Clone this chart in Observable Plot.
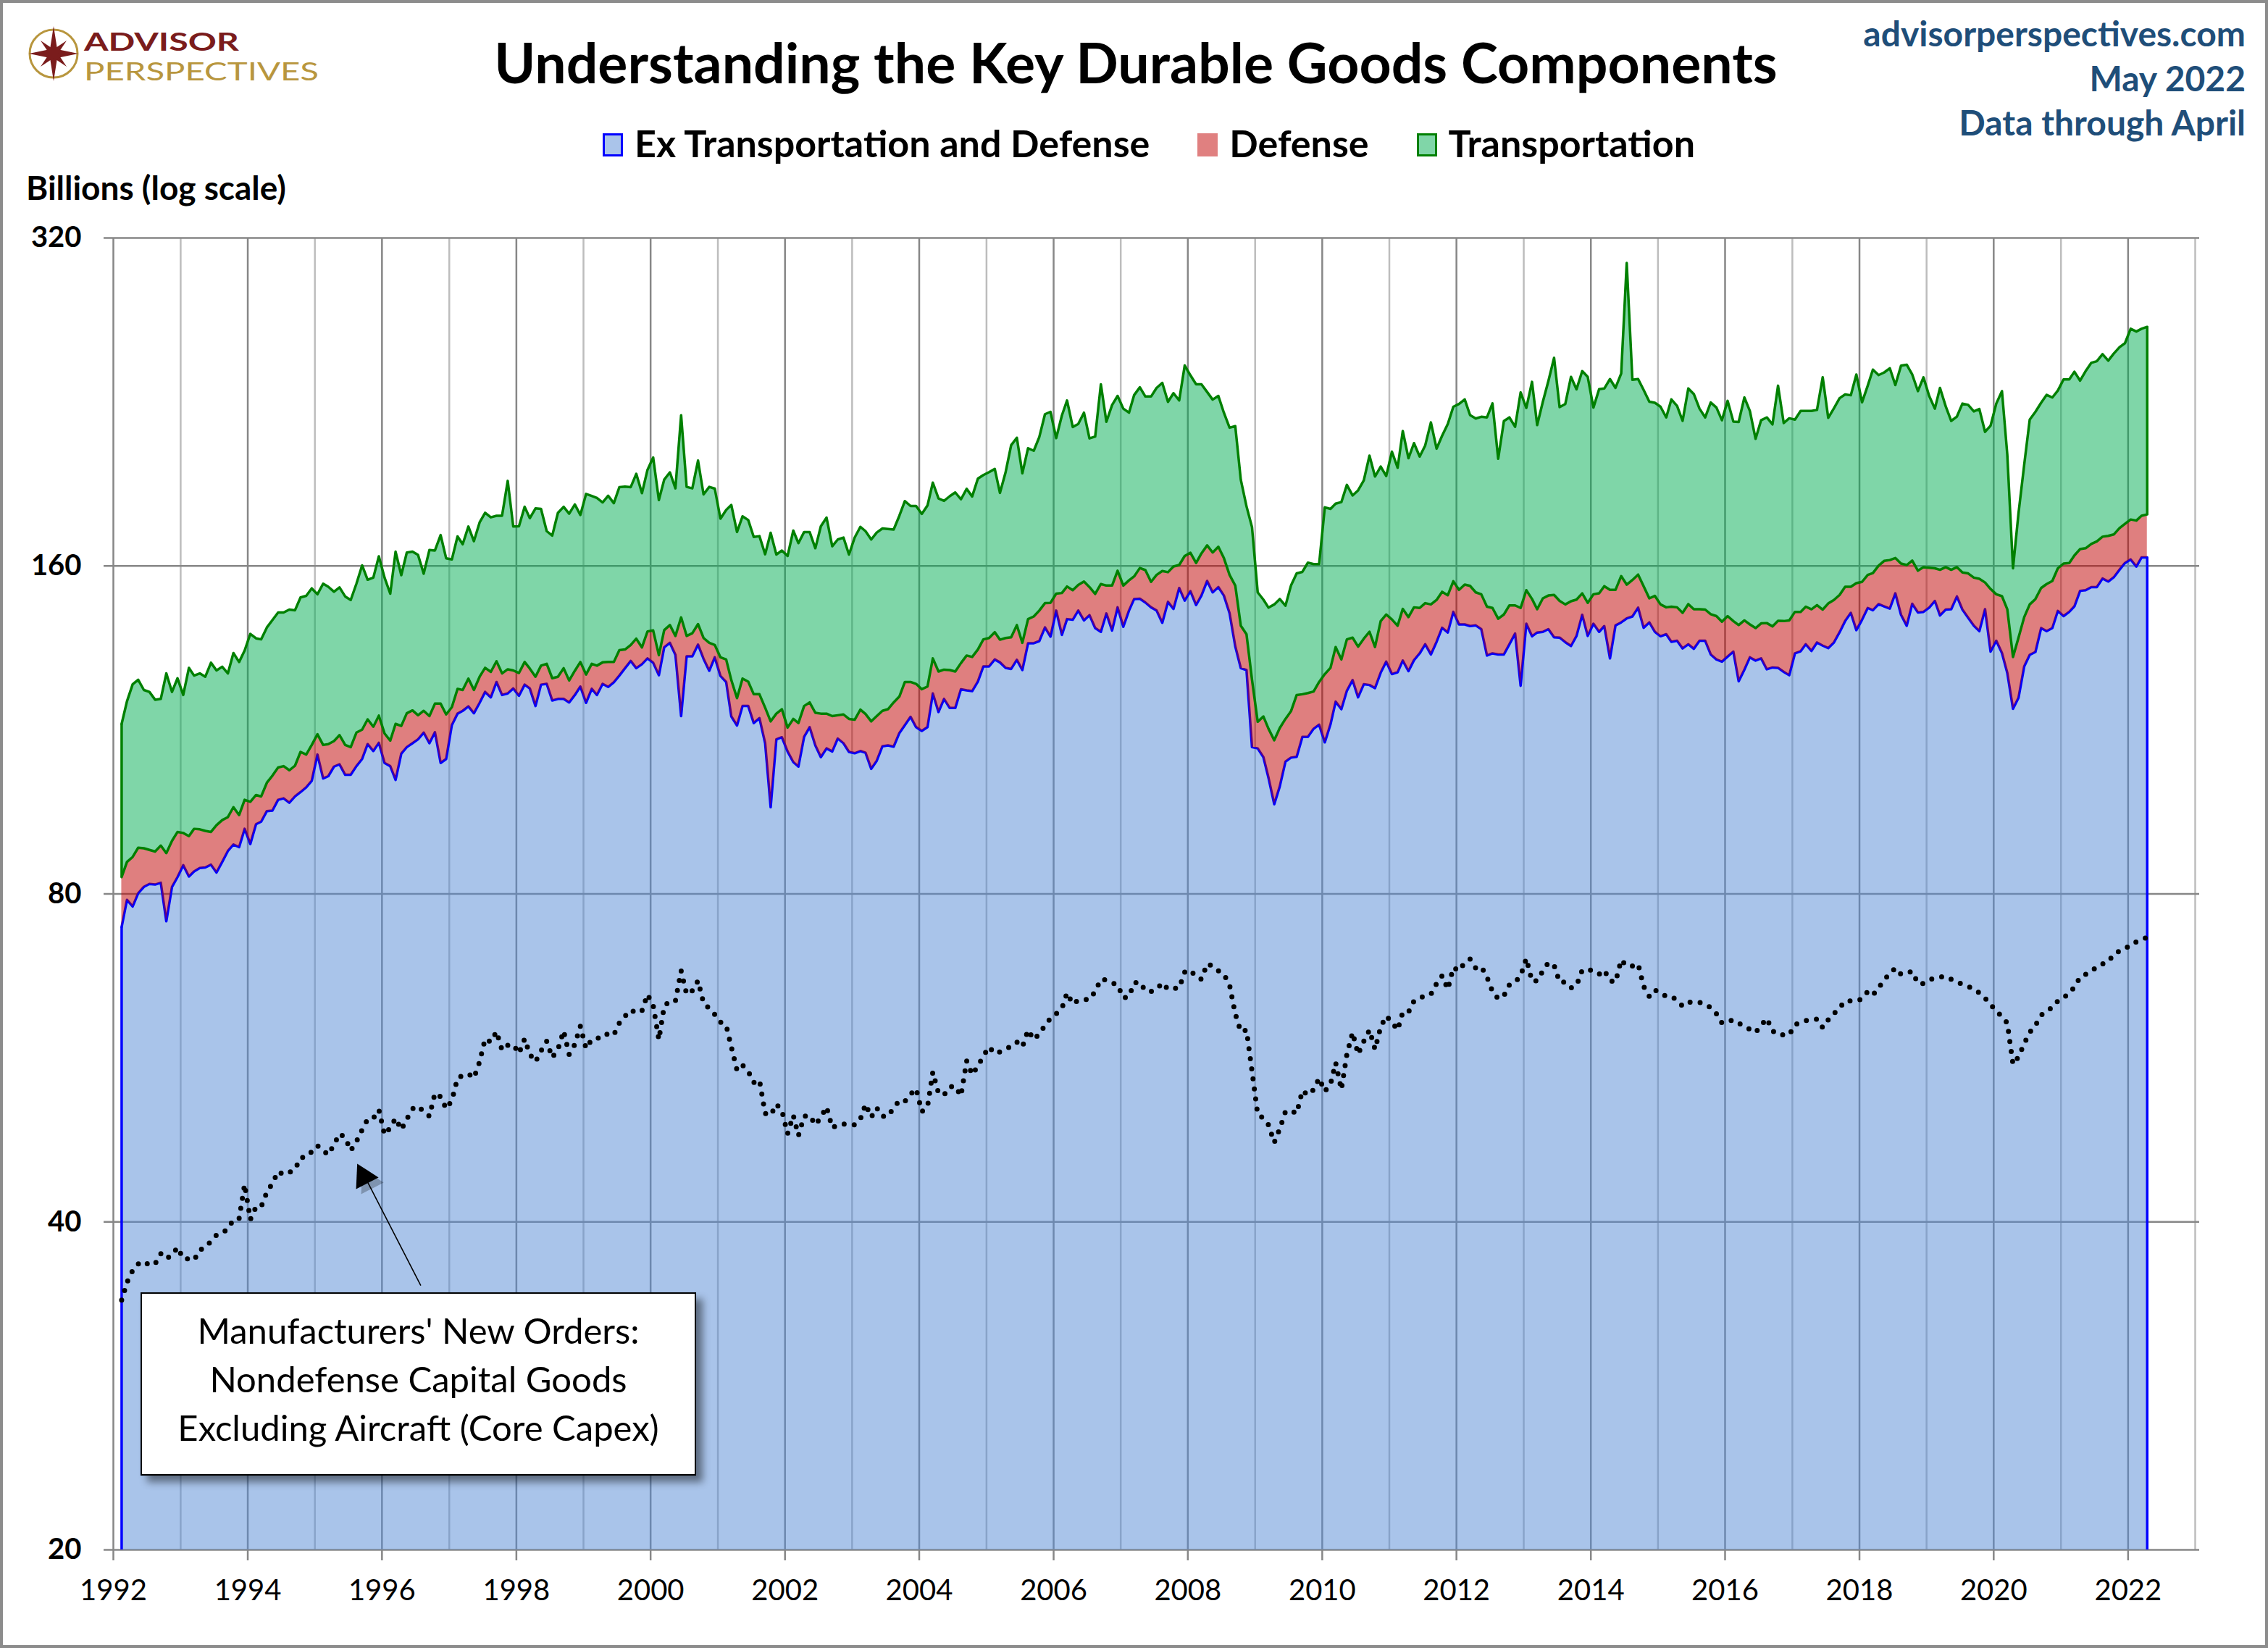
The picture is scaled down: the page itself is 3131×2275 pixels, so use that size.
<!DOCTYPE html>
<html>
<head>
<meta charset="utf-8">
<script src="https://cdn.jsdelivr.net/npm/d3@7"></script>
<script src="https://cdn.jsdelivr.net/npm/@observablehq/plot@0.6"></script>
<style>
  html, body { margin: 0; padding: 0; background: #fff; }
  #wrap { position: relative; width: 3131px; height: 2275px; overflow: hidden; background: #fff; font-family: Lato, "Noto Sans", sans-serif; }
  #chart { position: absolute; left: 0; top: 0; }
  .abs { position: absolute; line-height: 1; white-space: nowrap; }
  .blue { color: #1F4E79; font-weight: 700; font-size: 48px; right: 31px; text-align: right; }
  #legend { position: absolute; left: 0; width: 3172px; top: 171px; display: flex; justify-content: center; gap: 66px; font-size: 52px; font-weight: 700; line-height: 1; }
  #legend .item { display: flex; align-items: flex-start; gap: 16px; }
  #legend .sw { width: 28px; height: 32px; margin-top: 13px; box-sizing: border-box; }
  #note { position: absolute; left: 194px; top: 1784px; width: 767px; height: 253px; box-sizing: border-box; background: #fff; border: 2px solid #000; box-shadow: 9px 9px 10px rgba(0,0,0,0.45); text-align: center; font-size: 49px; line-height: 67px; padding-top: 17px; color: #000; }
  #frame { position: absolute; left: 0; top: 0; width: 3131px; height: 2275px; box-sizing: border-box; border: 4px solid #8c8c8c; pointer-events: none; }
</style>
</head>
<body>
<div id="wrap">
  <div id="chart"></div>

  <svg class="abs" style="left:30px;top:28px" width="430" height="100" viewBox="30 28 430 100">
    <circle cx="74" cy="74" r="33" fill="none" stroke="#B8963E" stroke-width="3"/>
    <polygon points="74,36 79,68 108,74 79,80 74,112 69,80 40,74 69,68" fill="#7A1C1C"/>
    <polygon points="92,56 80,74 92,92 74,80 56,92 68,74 56,56 74,68" fill="#7A1C1C"/>
    <text x="116" y="70" font-family="Lato, sans-serif" font-weight="700" font-size="34" fill="#7A1C1C" textLength="214" lengthAdjust="spacingAndGlyphs">ADVISOR</text>
    <text x="116" y="111" font-family="Lato, sans-serif" font-weight="400" font-size="34" fill="#B8963E" textLength="324" lengthAdjust="spacingAndGlyphs">PERSPECTIVES</text>
  </svg>

  <div class="abs" style="left:0;width:3136px;text-align:center;top:47px;font-size:77px;font-weight:700;color:#000;">Understanding the Key Durable Goods Components</div>

  <div class="abs blue" style="top:22px;">advisorperspectives.com</div>
  <div class="abs blue" style="top:84px;">May 2022</div>
  <div class="abs blue" style="top:145px;">Data through April</div>

  <div id="legend">
    <div class="item"><div class="sw" style="background:#AAC4EA;border:3px solid #0000FF;"></div><span>Ex Transportation and Defense</span></div>
    <div class="item"><div class="sw" style="background:#E08080;"></div><span>Defense</span></div>
    <div class="item"><div class="sw" style="background:#80D6A8;border:3px solid #008000;"></div><span>Transportation</span></div>
  </div>

  <div class="abs" style="left:36px;top:236px;font-size:46px;font-weight:700;color:#000;">Billions (log scale)</div>

  <div id="note">Manufacturers' New Orders:<br>Nondefense Capital Goods<br>Excluding Aircraft (Core Capex)</div>
  <div id="frame"></div>
</div>

<script>
// Monthly values, Feb 1992 through Apr 2022 (billions of dollars)

// Ex Transportation and Defense (top of the blue area)
const exTransAndDefense = [
  74.6, 79.0, 77.9, 80.1, 81.2, 81.7, 81.6, 81.9, 75.5, 81.2, 82.9,               // 1992 (Feb-Dec)
  85.0, 83.0, 83.9, 84.5, 84.6, 85.1, 83.7, 85.6, 87.6, 88.8, 88.3, 91.8,         // 1993
  88.9, 92.7, 93.2, 95.3, 95.4, 97.6, 97.9, 97.0, 98.3, 99.2, 100.2, 101.6,       // 1994
  107.4, 102.1, 102.6, 104.7, 105.2, 102.9, 102.9, 104.8, 106.4, 109.8, 108.2, 110.1, // 1995
  105.5, 104.8, 101.8, 107.6, 109.1, 110.0, 110.9, 112.5, 110.0, 112.6, 105.5, 106.4, // 1996
  114.3, 117.1, 117.8, 118.9, 117.2, 119.8, 122.6, 121.2, 125.2, 121.8, 122.2, 123.5, // 1997
  121.6, 124.5, 123.5, 119.0, 124.5, 124.7, 120.4, 120.8, 120.8, 119.9, 121.8, 124.0, // 1998
  119.8, 123.4, 121.8, 124.7, 123.9, 125.1, 126.9, 128.9, 130.9, 128.9, 130.0, 131.6, // 1999
  130.4, 127.0, 134.7, 136.0, 132.6, 116.5, 132.2, 132.2, 135.5, 131.5, 128.2, 131.9, // 2000
  126.8, 125.2, 116.4, 114.2, 119.0, 119.0, 114.8, 116.0, 110.0, 96.1, 110.9, 111.4,  // 2001
  108.1, 105.7, 104.7, 111.5, 113.8, 109.5, 106.8, 108.8, 108.1, 111.1, 110.0, 108.0, // 2002
  107.7, 108.2, 107.8, 104.2, 106.0, 109.3, 109.5, 109.2, 112.4, 114.3, 116.3, 113.8, // 2003
  112.9, 113.8, 122.2, 117.5, 120.8, 118.5, 118.5, 123.3, 123.0, 122.8, 125.3, 129.4, // 2004
  129.4, 131.3, 130.5, 129.0, 128.7, 131.2, 128.4, 135.9, 135.9, 136.5, 140.5, 137.8, // 2005
  145.6, 138.3, 143.0, 142.8, 145.6, 142.6, 144.2, 140.3, 139.2, 144.7, 139.6, 146.6, // 2006
  140.7, 145.6, 149.2, 149.3, 148.1, 146.6, 145.6, 141.9, 148.3, 146.1, 152.7, 148.7, // 2007
  151.7, 147.3, 150.3, 155.0, 151.3, 153.0, 150.3, 144.8, 135.0, 128.9, 128.4, 109.1, // 2008
  108.8, 106.8, 102.2, 96.7, 100.4, 105.8, 106.7, 106.9, 111.5, 111.5, 113.4, 114.4,  // 2009
  110.2, 114.5, 120.1, 118.2, 122.9, 125.7, 121.2, 124.6, 124.4, 123.6, 127.7, 130.7, // 2010
  127.3, 127.8, 131.0, 128.1, 131.1, 133.0, 135.6, 132.7, 136.3, 140.4, 139.0, 145.2, // 2011
  141.4, 141.4, 140.9, 141.1, 140.0, 132.4, 133.0, 132.7, 132.7, 135.6, 138.7, 124.2, // 2012
  141.6, 137.9, 139.0, 139.2, 140.0, 137.6, 137.5, 136.2, 135.1, 138.0, 144.3, 138.0, // 2013
  141.6, 139.2, 140.9, 131.6, 141.1, 142.0, 143.2, 143.8, 146.5, 140.4, 142.0, 139.2, // 2014
  137.9, 138.5, 136.3, 136.6, 134.4, 135.6, 134.3, 136.6, 136.6, 132.7, 131.3, 130.7, // 2015
  132.1, 133.5, 125.4, 128.5, 131.9, 131.0, 131.6, 128.6, 129.1, 129.0, 127.9, 127.0, // 2016
  133.0, 133.6, 135.6, 133.7, 136.1, 135.2, 134.5, 136.1, 139.1, 142.4, 144.9, 139.7, // 2017
  142.8, 146.4, 145.7, 147.6, 146.9, 146.2, 151.0, 144.3, 141.0, 147.7, 145.0, 145.2, // 2018
  146.5, 148.6, 144.1, 145.9, 146.0, 150.0, 145.9, 143.4, 141.0, 139.4, 146.0, 133.5, // 2019
  136.6, 133.1, 127.6, 118.3, 121.1, 129.4, 132.6, 133.4, 140.3, 139.4, 140.3, 145.5, // 2020
  143.9, 145.2, 146.9, 151.8, 152.0, 153.0, 153.0, 155.8, 154.8, 156.2, 158.7, 161.0, // 2021
  162.2, 159.8, 162.9, 162.9                                                          // 2022 (Jan-Apr)
];

// Ex Transportation = Ex Transportation and Defense + Defense (top of the red area)
const exTransportation = [
  82.9, 85.6, 86.5, 88.2, 88.1, 87.8, 87.5, 88.6, 87.2, 89.5, 91.2,
  91.0, 90.4, 91.8, 91.7, 91.4, 91.2, 92.5, 93.5, 94.1, 96.1, 94.5, 97.6,
  97.2, 98.6, 98.3, 101.2, 102.7, 104.5, 104.8, 103.9, 104.9, 108.0, 107.4, 109.6,
  112.1, 109.6, 109.8, 110.5, 111.9, 109.6, 109.1, 112.5, 113.2, 115.7, 113.9, 116.6,
  112.3, 110.6, 114.6, 114.1, 117.2, 117.9, 116.7, 117.8, 116.5, 119.6, 119.6, 116.9,
  118.7, 123.4, 123.1, 126.1, 123.1, 126.6, 129.0, 127.9, 130.8, 127.5, 128.6, 128.3,
  127.6, 130.6, 128.8, 126.6, 129.6, 130.1, 126.2, 126.6, 128.9, 125.6, 128.2, 130.6,
  127.2, 130.1, 129.6, 130.5, 130.6, 130.6, 133.9, 134.1, 135.4, 137.2, 134.7, 139.3,
  139.6, 132.5, 139.7, 141.2, 138.0, 143.5, 138.0, 138.8, 141.5, 137.4, 136.0, 135.4,
  131.9, 131.3, 125.7, 121.0, 126.1, 125.3, 122.0, 122.0, 118.6, 115.2, 117.1, 118.2,
  113.7, 115.8, 114.8, 119.0, 119.9, 117.3, 117.1, 117.1, 116.5, 116.7, 116.9, 115.8,
  115.6, 118.1, 117.0, 115.2, 116.5, 117.8, 118.2, 119.9, 121.4, 125.2, 125.2, 124.7,
  123.3, 124.0, 131.6, 128.0, 128.5, 128.4, 128.0, 130.3, 132.4, 132.0, 134.1, 137.0,
  137.4, 139.1, 136.9, 137.4, 137.6, 141.2, 136.0, 143.0, 143.8, 145.6, 147.9, 148.0,
  150.9, 151.1, 153.2, 152.0, 153.7, 154.8, 153.0, 150.8, 154.0, 153.5, 153.5, 158.4,
  153.5, 155.2, 156.5, 159.3, 158.6, 154.7, 157.0, 158.3, 157.9, 159.8, 160.3, 163.4,
  164.5, 161.0, 164.3, 167.1, 164.6, 166.6, 162.7, 157.0, 153.5, 141.0, 138.5, 125.8,
  115.1, 116.4, 113.4, 110.7, 113.6, 115.8, 117.7, 121.8, 122.0, 122.3, 122.7, 125.2,
  127.3, 129.0, 134.8, 131.3, 137.0, 137.5, 134.9, 137.2, 139.2, 134.8, 142.4, 144.4,
  142.9, 141.0, 146.1, 143.6, 146.6, 146.4, 147.9, 147.5, 148.9, 151.5, 150.4, 154.9,
  152.1, 153.8, 153.4, 151.3, 150.7, 146.8, 146.4, 143.1, 144.4, 147.2, 147.2, 146.4,
  152.0, 149.2, 146.0, 149.4, 150.3, 150.5, 148.6, 147.5, 148.5, 149.0, 151.0, 148.0,
  150.7, 151.0, 153.3, 152.1, 152.1, 156.6, 153.8, 155.3, 157.1, 153.3, 149.4, 150.2,
  147.5, 146.6, 146.8, 146.6, 144.9, 147.6, 146.0, 146.0, 145.9, 144.5, 143.9, 142.2,
  143.9, 142.4, 141.2, 142.6, 141.4, 140.3, 141.7, 141.8, 140.8, 142.5, 142.4, 142.6,
  145.2, 145.2, 146.8, 146.0, 147.3, 145.9, 147.8, 148.9, 150.5, 153.1, 153.1, 154.3,
  154.7, 157.0, 157.6, 160.1, 161.7, 162.0, 162.7, 160.8, 160.3, 161.8, 158.4, 159.6,
  159.4, 159.2, 158.7, 159.6, 158.7, 159.6, 157.8, 157.5, 156.1, 155.7, 154.5, 152.4,
  150.7, 150.1, 146.0, 132.0, 137.5, 143.6, 147.5, 149.2, 152.7, 154.0, 155.0, 159.2,
  160.8, 161.0, 163.6, 165.8, 166.1, 167.6, 168.5, 170.2, 170.5, 171.0, 173.3, 174.9,
  176.5, 176.1, 177.9, 178.4
];

// Total durable goods = Ex Transportation + Transportation (top of the green area)
const totalDurables = [
  114.6, 120.2, 124.6, 125.8, 123.1, 122.6, 120.6, 120.8, 127.5, 122.6, 126.2,
  121.8, 129.0, 126.9, 127.5, 126.6, 130.4, 128.3, 129.3, 127.5, 133.1, 130.6, 133.8,
  138.6, 137.3, 137.0, 140.5, 142.7, 145.0, 145.0, 145.9, 145.7, 149.7, 150.2, 152.6,
  150.7, 154.1, 153.1, 151.5, 152.9, 150.0, 148.9, 154.1, 160.2, 155.4, 156.1, 163.3,
  156.1, 150.9, 164.9, 156.9, 164.6, 164.9, 163.8, 157.4, 165.5, 165.3, 170.8, 162.6,
  162.2, 170.3, 167.5, 173.9, 168.6, 175.4, 179.0, 177.3, 177.9, 177.9, 191.5, 173.9,
  174.0, 181.3, 177.0, 180.7, 180.5, 172.2, 170.6, 179.0, 181.3, 178.7, 182.2, 178.2,
  186.3, 185.5, 184.7, 183.0, 185.6, 182.7, 189.0, 189.2, 189.0, 194.4, 186.6, 196.0,
  201.2, 183.9, 192.0, 195.0, 188.5, 220.0, 189.1, 188.5, 199.9, 186.1, 189.1, 188.4,
  176.8, 180.1, 182.0, 171.9, 177.7, 176.3, 170.1, 170.4, 164.0, 171.6, 163.9, 165.3,
  163.4, 172.4, 167.9, 171.9, 171.9, 166.1, 174.0, 177.2, 166.8, 169.2, 169.9, 163.9,
  169.9, 173.8, 172.2, 169.2, 171.7, 173.2, 173.0, 172.8, 177.9, 183.5, 181.6, 181.6,
  178.6, 181.8, 190.8, 184.5, 183.6, 185.4, 186.9, 184.2, 188.3, 185.3, 192.4, 193.9,
  195.1, 196.4, 186.7, 195.1, 206.5, 209.8, 194.6, 205.2, 204.1, 210.1, 220.5, 221.6,
  209.6, 219.9, 227.0, 214.6, 216.0, 221.2, 209.5, 210.3, 234.9, 217.0, 224.8, 229.2,
  223.1, 221.2, 229.6, 233.4, 228.9, 228.9, 233.1, 235.6, 226.3, 230.5, 227.0, 244.4,
  239.4, 234.9, 234.9, 231.1, 227.4, 229.2, 221.2, 214.3, 215.0, 192.0, 181.5, 173.7,
  151.3, 149.0, 146.5, 147.5, 149.2, 147.1, 153.5, 157.5, 158.0, 161.1, 160.6, 160.6,
  181.1, 180.5, 182.5, 183.1, 189.9, 185.7, 187.7, 191.7, 202.0, 193.3, 197.4, 193.5,
  203.7, 196.9, 212.8, 200.9, 207.4, 201.6, 206.4, 216.7, 205.0, 210.7, 216.0, 224.0,
  225.3, 227.5, 220.1, 218.5, 219.3, 219.0, 225.6, 200.7, 217.3, 219.0, 214.7, 230.9,
  223.4, 236.1, 215.5, 226.4, 236.5, 248.4, 223.8, 225.3, 238.6, 232.4, 241.5, 238.6,
  223.6, 232.5, 232.8, 237.5, 233.1, 240.3, 303.5, 237.1, 237.5, 232.1, 226.4, 225.9,
  224.0, 219.0, 227.5, 224.4, 217.4, 232.8, 230.1, 223.1, 219.0, 226.0, 223.6, 217.7,
  226.8, 217.1, 216.9, 228.4, 222.0, 209.3, 217.7, 219.0, 215.8, 234.2, 216.4, 218.6,
  218.0, 222.0, 222.0, 222.0, 222.5, 238.4, 218.8, 223.3, 228.1, 229.9, 229.5, 239.8,
  226.1, 234.2, 242.3, 239.5, 240.8, 243.0, 234.5, 244.3, 244.8, 239.8, 231.5, 238.4,
  229.2, 223.1, 233.1, 224.2, 217.4, 219.4, 225.5, 224.9, 221.8, 222.9, 212.4, 215.2,
  225.5, 231.5, 202.4, 159.2, 178.9, 198.2, 218.0, 221.6, 225.9, 229.7, 228.4, 231.8,
  237.3, 237.3, 241.2, 236.7, 241.5, 245.8, 246.6, 250.3, 246.9, 250.6, 254.0, 256.2,
  264.1, 262.6, 264.1, 265.2
];

// Nondefense capital goods excluding aircraft (Core Capex), dotted line
const coreCapex = [
  33.9, 35.2, 36.1, 36.6, 36.8, 36.5, 36.6, 37.4, 37.0, 37.3, 37.9,
  37.0, 37.0, 36.9, 37.7, 37.9, 38.4, 38.9, 39.1, 39.4, 40.2, 40.3, 43.3,
  40.2, 41.3, 41.3, 42.6, 43.4, 44.5, 44.2, 44.4, 44.7, 45.8, 45.9, 46.4,
  47.0, 46.5, 46.1, 47.1, 48.2, 47.8, 46.5, 47.4, 48.6, 49.7, 49.8, 50.7,
  48.1, 48.8, 49.8, 48.6, 49.7, 50.8, 51.1, 50.5, 50.0, 52.5, 52.1, 50.8,
  51.7, 54.2, 54.5, 54.7, 54.2, 56.1, 58.9, 58.5, 59.8, 57.5, 58.1, 58.2,
  57.1, 58.9, 57.0, 56.1, 57.4, 58.6, 56.6, 57.6, 59.9, 57.0, 58.2, 60.5,
  57.7, 58.8, 59.0, 59.0, 59.6, 59.4, 60.9, 61.8, 62.6, 62.2, 62.5, 64.7,
  63.2, 58.8, 63.1, 63.8, 63.8, 68.0, 64.7, 65.2, 66.6, 63.5, 62.8, 62.0,
  61.0, 60.6, 57.9, 55.1, 55.7, 55.0, 53.7, 54.0, 50.3, 50.1, 51.3, 50.6,
  48.2, 50.1, 48.0, 50.0, 50.1, 49.1, 49.9, 51.0, 48.8, 49.1, 49.2, 49.1,
  49.1, 49.7, 51.3, 49.9, 50.9, 50.0, 50.0, 50.9, 51.7, 51.6, 52.4, 53.0,
  50.5, 51.0, 54.9, 52.5, 52.3, 53.2, 53.3, 52.2, 56.2, 54.6, 55.6, 56.8,
  57.9, 57.1, 57.3, 57.6, 58.0, 58.5, 57.9, 60.0, 58.8, 59.5, 60.6, 61.5,
  62.1, 62.8, 64.9, 63.4, 63.9, 64.0, 64.0, 65.1, 66.8, 66.7, 66.3, 66.0,
  64.2, 64.4, 66.3, 66.4, 65.2, 65.1, 65.4, 66.3, 65.4, 65.5, 65.6, 67.8,
  68.1, 67.1, 66.8, 69.0, 68.7, 68.0, 67.5, 66.0, 62.1, 59.8, 60.0, 55.0,
  50.2, 49.8, 49.1, 47.3, 48.7, 50.5, 50.6, 50.3, 52.8, 52.3, 52.9, 54.2,
  52.7, 53.5, 56.0, 52.9, 57.0, 59.7, 57.0, 58.6, 60.0, 57.6, 60.4, 61.8,
  61.0, 60.0, 62.3, 62.3, 63.8, 64.2, 64.5, 64.7, 66.2, 67.3, 65.4, 68.5,
  68.0, 69.2, 69.7, 68.4, 68.6, 67.1, 65.1, 64.1, 64.5, 66.0, 66.4, 67.3,
  69.8, 66.5, 66.6, 68.0, 69.2, 68.8, 66.4, 66.4, 65.6, 65.9, 68.1, 68.2,
  68.0, 67.5, 68.1, 66.6, 66.4, 69.6, 68.7, 68.7, 69.0, 65.8, 64.4, 65.3,
  64.9, 64.4, 64.4, 63.9, 63.1, 63.6, 63.7, 63.6, 63.4, 62.9, 62.1, 60.9,
  61.1, 61.3, 60.9, 60.4, 60.1, 59.7, 60.6, 61.5, 59.9, 59.4, 59.4, 59.4,
  60.7, 60.9, 61.2, 61.3, 61.4, 60.3, 61.3, 62.1, 62.9, 63.8, 63.8, 63.8,
  64.1, 65.1, 64.6, 65.6, 66.7, 67.6, 68.4, 67.5, 67.7, 67.9, 66.2, 66.2,
  66.7, 67.0, 67.1, 67.2, 66.8, 66.4, 66.1, 65.8, 65.4, 64.9, 64.2, 63.3,
  62.5, 61.7, 60.9, 55.8, 56.7, 58.3, 59.7, 60.6, 61.9, 62.5, 62.9, 63.8,
  64.2, 64.9, 65.7, 67.1, 67.5, 67.9, 68.6, 69.0, 69.3, 70.4, 70.9, 71.2,
  71.9, 72.3, 72.6, 73.0
];

const yTickValues = [20, 40, 80, 160, 320];
const firstYear = 1992, lastYear = 2023;

// Annotation arrow (date, value) from the note box up to the dotted series
const noteArrow = {
  tailDate: new Date(Date.UTC(1996, 6, 30)), tailValue: 34.96,
  headDate: new Date(Date.UTC(1995, 9, 15)), headValue: 43.5,
  tipDate: new Date(Date.UTC(1995, 8, 25)), tipValue: 44.0
};

// ---- build table
const n = Math.min(exTransAndDefense.length, exTransportation.length, totalDurables.length, coreCapex.length);
const rows = d3.range(n).map(i => ({
  date: new Date(Date.UTC(1992, 1 + i, 15)),
  ex: exTransAndDefense[i],
  exTrans: exTransportation[i],
  total: totalDurables[i],
  capex: coreCapex[i]
}));
const ends = [rows[0], rows[n - 1]];

const years = d3.range(firstYear, lastYear + 1).map(y => new Date(Date.UTC(y, 0, 1)));
const evenYears = years.filter(d => d.getUTCFullYear() % 2 === 0);
const oddYears = years.filter(d => d.getUTCFullYear() % 2 === 1);
const labelYears = evenYears.filter(d => d.getUTCFullYear() <= 2022);

const chart = Plot.plot({
  width: 3131,
  height: 2275,
  marginLeft: 143,
  marginRight: 95,
  marginTop: 328,
  marginBottom: 136,
  style: { fontFamily: "Lato, 'Noto Sans', sans-serif", background: "transparent", color: "#000" },
  x: { type: "utc", domain: [new Date(Date.UTC(firstYear, 0, 1)), new Date(Date.UTC(lastYear, 0, 1))], range: [156, 3030] },
  y: { type: "log", domain: [20, 320], range: [2139, 328] },
  marks: [
    Plot.ruleX(oddYears, { stroke: "#bdbdbd", strokeWidth: 2.5 }),
    Plot.ruleX(evenYears, { stroke: "#878787", strokeWidth: 2.5 }),
    Plot.ruleY(yTickValues, { stroke: "#878787", strokeWidth: 2.5 }),

    Plot.areaY(rows, { x: "date", y1: 20, y2: "ex", fill: "#5389D5", fillOpacity: 0.5 }),
    Plot.lineY(rows, { x: "date", y: "ex", stroke: "#0000FF", strokeWidth: 3.5 }),
    Plot.ruleX(ends, { x: "date", y1: 20, y2: "ex", stroke: "#0000FF", strokeWidth: 3.5 }),

    Plot.areaY(rows, { x: "date", y1: "ex", y2: "exTrans", fill: "#BF0000", fillOpacity: 0.5 }),
    Plot.areaY(rows, { x: "date", y1: "exTrans", y2: "total", fill: "#00AD51", fillOpacity: 0.5 }),
    Plot.lineY(rows, { x: "date", y: "exTrans", stroke: "#008000", strokeWidth: 3.5 }),
    Plot.lineY(rows, { x: "date", y: "total", stroke: "#008000", strokeWidth: 3.5 }),
    Plot.ruleX(ends, { x: "date", y1: "exTrans", y2: "total", stroke: "#008000", strokeWidth: 3.5 }),

    Plot.lineY(rows, { x: "date", y: "capex", stroke: "#000", strokeWidth: 7, strokeDasharray: "0 14", strokeLinecap: "round" }),

    Plot.link([noteArrow], { x1: "tailDate", y1: "tailValue", x2: "headDate", y2: "headValue", stroke: "#000", strokeWidth: 1.6 }),
    Plot.dot([noteArrow], { x: "tipDate", y: "tipValue", symbol: "triangle", r: 13, fill: "#000", fillOpacity: 0.25, stroke: "none", rotate: -27.4, dx: 7, dy: 7 }),
    Plot.dot([noteArrow], { x: "tipDate", y: "tipValue", symbol: "triangle", r: 13, fill: "#000", stroke: "none", rotate: -27.4 }),

    Plot.axisY({ ticks: yTickValues, tickFormat: d => String(d), tickSize: 0, tickPadding: 31, fontSize: 40, fontWeight: "bold", fill: "#000" }),
    Plot.axisX({ ticks: labelYears, tickFormat: d3.utcFormat("%Y"), tickSize: 15, tickPadding: 26, fontSize: 40, stroke: "#878787", strokeWidth: 2.5, fill: "#000" })
  ]
});

document.getElementById("chart").appendChild(chart);
</script>
</body>
</html>
